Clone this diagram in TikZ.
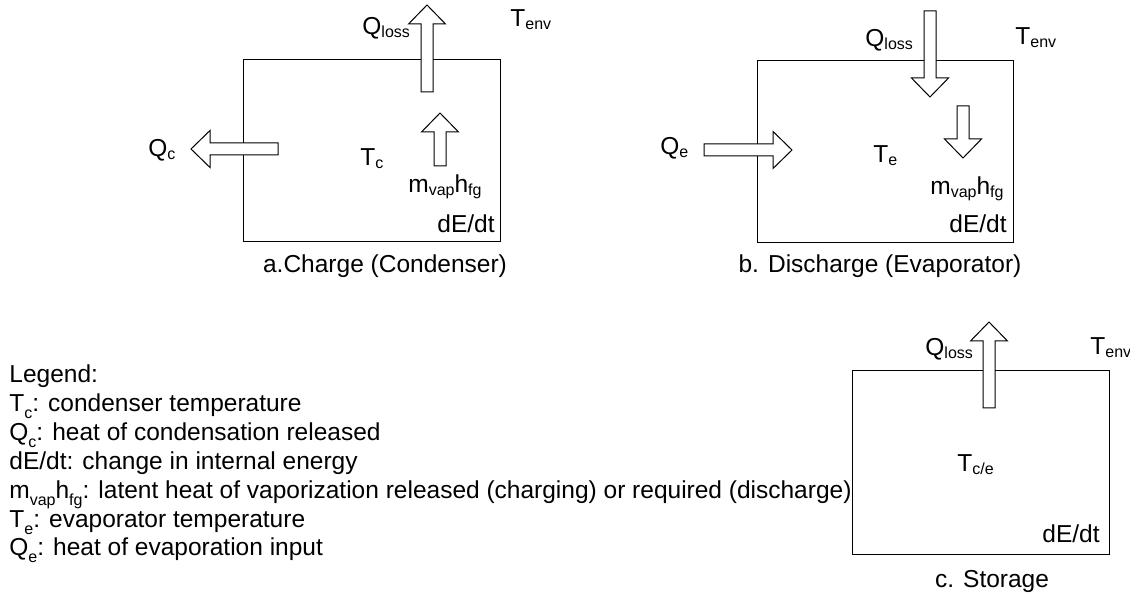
\documentclass[tikz,border=0pt]{standalone}
\usepackage{fontspec}
\setmainfont{Liberation Sans}
\usepackage{tikz}
\newcommand{\sub}[2][1.5pt]{\raisebox{-#1}{\fontsize{8pt}{8pt}\selectfont #2}}

\begin{document}
\begin{tikzpicture}[x=0.5pt, y=-0.5pt, font=\fontsize{12.25pt}{14.4pt}\selectfont,
    lbl/.style={anchor=base west, inner sep=0pt},
    lble/.style={anchor=base east, inner sep=0pt},
    capt/.style={anchor=base, inner sep=0pt},
    barrow/.style={draw, fill=white, line width=0.5pt}]
    \useasboundingbox (0,0) rectangle (1130,598);
    % control volumes
    \draw[line width=0.5pt] (243,60) rectangle (500,242);
    \draw[line width=0.5pt] (757,61) rectangle (1013,243);
    \draw[line width=0.5pt] (852,371) rectangle (1109,554);
    % block arrows: tail x / tail y / angle / length
    \foreach \px/\py/\ang/\len in {427/92/90/87, 440/166/90/53, 278/149/180/87,
        930/11/-90/86, 963/106/-90/52, 704/150/0/88, 989/408/90/86}
        \draw[barrow, shift={(\px,\py)}, rotate=\ang] (0,-6) -- (\len-19,-6) -- (\len-19,-18.5)
            -- (\len,0) -- (\len-19,18.5) -- (\len-19,6) -- (0,6) -- cycle;
    % a. charge
    \node[lbl] (qlossA) at (362,35) {Q\sub{loss}};
    \node[lbl] (tenvA) at (510,27) {T\sub{env}};
    \node[lbl] (qc) at (148,157) {Q\sub{c}};
    \node[lbl] (tc) at (360,166) {T\sub{c}};
    \node[lbl] (mvapA) at (408,193) {m\sub{vap}h\sub{fg}};
    \node[lble] (dedtA) at (495,233) {dE/dt};
    \node[capt] (capA) at (385,273) {a.Charge (Condenser)};
    % b. discharge
    \node[lbl] (qlossB) at (865,47) {Q\sub{loss}};
    \node[lbl] (tenvB) at (1015,45) {T\sub{env}};
    \node[lbl] (qe) at (660,155) {Q\sub{e}};
    \node[lbl] (te) at (873,163) {T\sub{e}};
    \node[lbl] (mvapB) at (930,195) {m\sub{vap}h\sub{fg}};
    \node[lble] (dedtB) at (1007,233) {dE/dt};
    \node[capt] (capB) at (880,273) {b. Discharge (Evaporator)};
    % c. storage
    \node[lbl] (qlossC) at (925,356) {Q\sub{loss}};
    \node[lbl] (tenvC) at (1090,355) {T\sub{env}};
    \node[lbl] (tce) at (957,472) {T\sub{c/e}};
    \node[lble] (dedtC) at (1100,542) {dE/dt};
    \node[capt] (capC) at (992,588) {c. Storage};
    % legend
    \foreach \t [count=\i from 0] in {{Legend:},
        {T\sub[3.5pt]{c}: condenser temperature},
        {Q\sub[3.5pt]{c}: heat of condensation released},
        {dE/dt: change in internal energy},
        {m\sub[3.5pt]{vap}h\sub[3.5pt]{fg}: latent heat of vaporization released (charging) or required (discharge)},
        {T\sub[3.5pt]{e}: evaporator temperature},
        {Q\sub[3.5pt]{e}: heat of evaporation input}}
        \node[lbl] (leg\i) at (9,383+28.8*\i) {\t};
\end{tikzpicture}
\end{document}
